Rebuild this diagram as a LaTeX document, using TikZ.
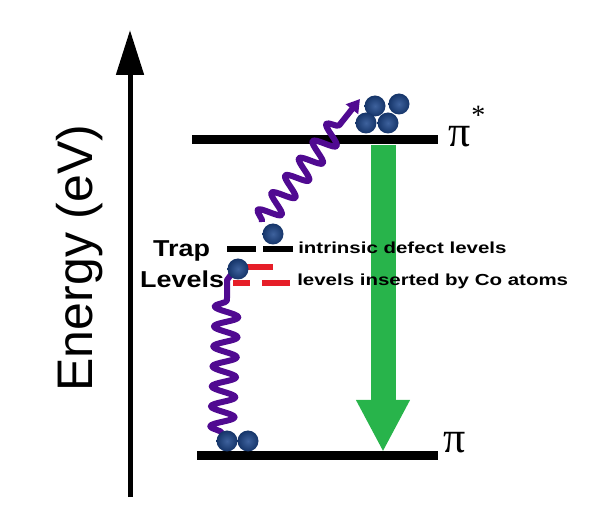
\documentclass[tikz,border=0pt]{standalone}
\usepackage{fontspec}
\setmainfont{Liberation Sans}
\newfontfamily\serifpi{Liberation Serif}
\usetikzlibrary{arrows.meta,decorations.pathmorphing}
\definecolor{wavepurple}{RGB}{80,10,145}
\definecolor{arrowgreen}{RGB}{40,180,75}
\definecolor{ballblue}{RGB}{28,70,140}
\definecolor{trapred}{RGB}{230,30,40}
\begin{document}
\begin{tikzpicture}[x=1pt,y=-1pt,
  levelline/.style={line width=9pt},
  trapdash/.style={line width=5.5pt},
  ball/.style={circle,minimum size=21pt,inner sep=0pt,inner color=ballblue!85!white,outer color=ballblue!75!black},
  wave/.style={wavepurple,line width=6pt,line join=round},
  lbl/.style={font=\bfseries\fontsize{16}{18}\selectfont,xscale=1.28,anchor=base west,inner sep=0pt},
  traplbl/.style={font=\bfseries\fontsize{23}{25}\selectfont,xscale=1.17,anchor=base west,inner sep=0pt}
]
\useasboundingbox (0,0) rectangle (606,513);
% energy axis
\coordinate (axb) at (130,497);
\coordinate (axt) at (130,30);
\draw[line width=5pt,-{Triangle[length=45pt,width=27pt]}] (axb) -- (axt);
\node[rotate=90,font=\fontsize{50}{50}\selectfont,inner sep=0pt] (elabel) at (80,258) {Energy (eV)};
% levels
\coordinate (ps1) at (192,140);
\coordinate (ps2) at (438,140);
\coordinate (p1) at (197,456);
\coordinate (p2) at (438,456);
\draw[levelline] (ps1) -- (ps2);
\draw[levelline] (p1) -- (p2);
\node[font=\serifpi\fontsize{44}{44}\selectfont,anchor=base west,inner sep=0pt] (pistar) at (448,147) {π\kern1pt\raisebox{22pt}{\fontsize{28}{28}\selectfont *}};
\node[font=\serifpi\fontsize{44}{44}\selectfont,anchor=base west,inner sep=0pt] (pi) at (443,453) {π};
% green arrow
\coordinate (gtop) at (383,145);
\coordinate (gbot) at (383,452);
\draw[arrowgreen,line width=25pt,-{Triangle[length=52pt,width=50pt]}] (gtop) -- (gbot);
% trap levels
\draw[trapdash] (227,249) -- (256,249);
\draw[trapdash] (263,249) -- (293,249);
\draw[trapdash,trapred] (247,267) -- (273,267);
\draw[trapdash,trapred] (233,283) -- (250,283);
\draw[trapdash,trapred] (262,283) -- (290,283);
\node[traplbl] (trap) at (153,257) {Trap};
\node[traplbl] (levels) at (140,288) {Levels};
\node[lbl] (intr) at (298,254) {intrinsic defect levels};
\node[lbl] (coat) at (297,286) {levels inserted by Co atoms};
% waves
\coordinate (w1a) at (222,433);
\coordinate (w1b) at (227,298);
\coordinate (w1c) at (227,280);
\coordinate (w2a) at (262,222);
\coordinate (w2b) at (345,118);
\coordinate (w2c) at (360,99);
\draw[wave] (w1a) decorate[decoration={snake,amplitude=12pt,segment length=20pt}]{-- (w1b)} -- (w1c) -- (236,268);
\draw[wave,-{Triangle[length=13pt,width=15pt]}] (w2a) decorate[decoration={snake,amplitude=11pt,segment length=22pt}]{-- (w2b)} -- (w2c);
% electrons
\node[ball] (b1) at (227,441) {};
\node[ball] (b2) at (248,441) {};
\node[ball] (t1) at (238,269) {};
\node[ball] (t2) at (273,234) {};
\node[ball] (c1) at (375,106) {};
\node[ball] (c2) at (399,104) {};
\node[ball] (c3) at (366,123) {};
\node[ball] (c4) at (388,123) {};
\end{tikzpicture}
\end{document}
